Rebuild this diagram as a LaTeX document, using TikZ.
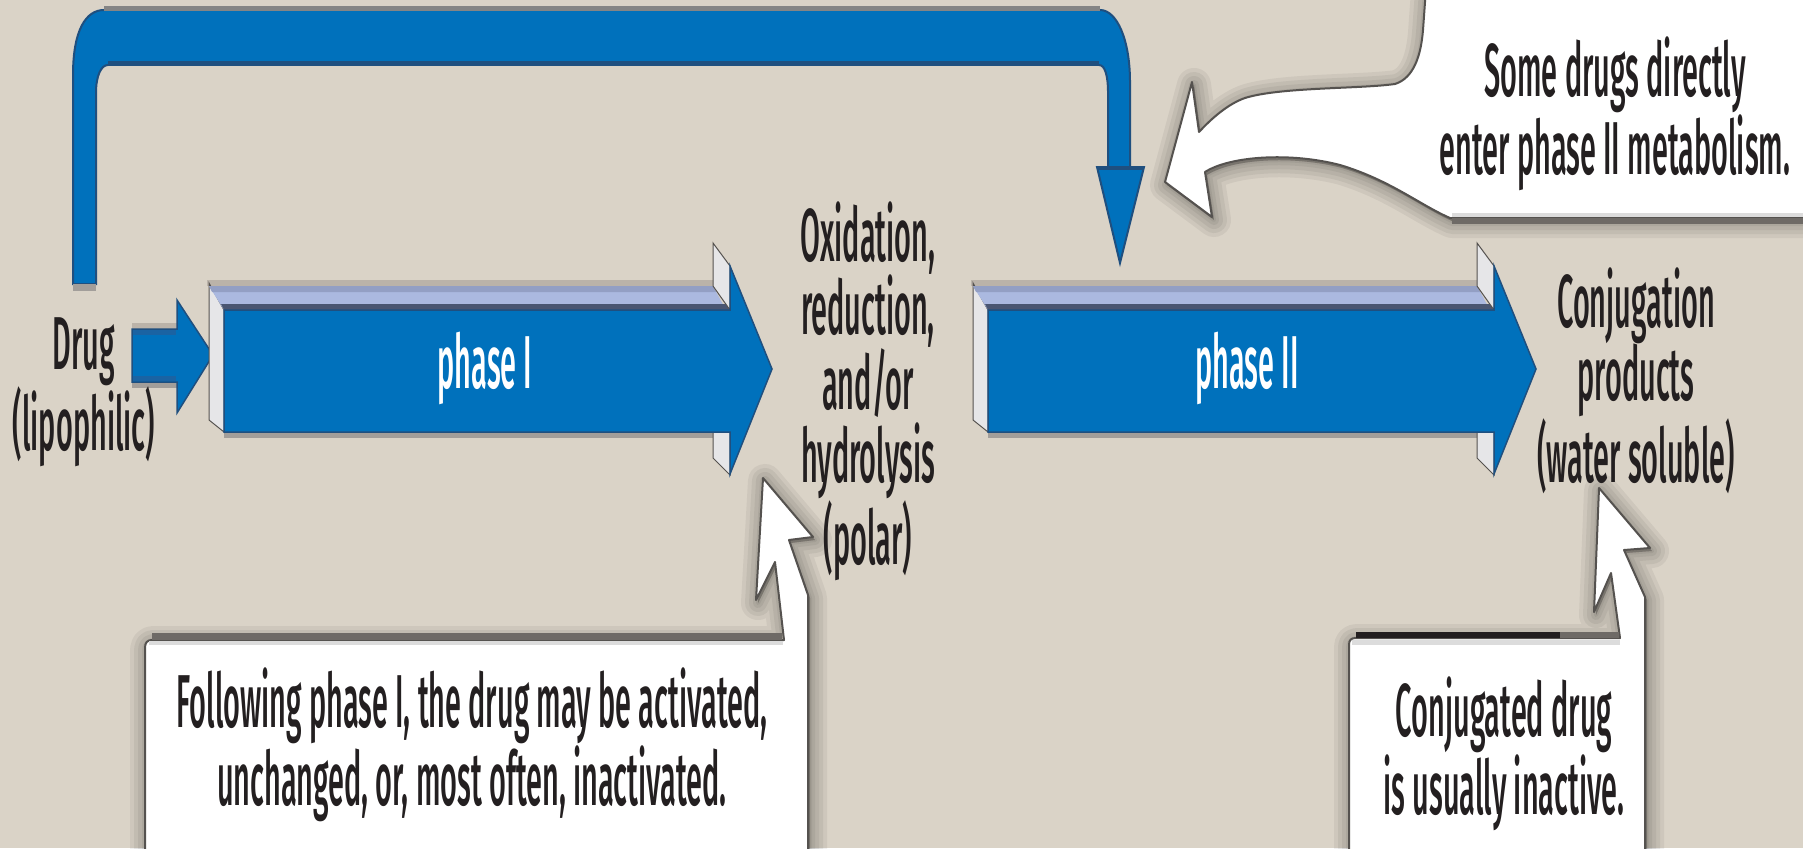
\documentclass[tikz,border=0pt]{standalone}
\usepackage{fontspec}
\setmainfont{Fira Sans}[UprightFont=* Medium, FakeStretch=0.385]
\definecolor{bg}{HTML}{DAD3C7}
\definecolor{ablue}{HTML}{0071BC}
\definecolor{edgeblue}{HTML}{1F4F7F}
\definecolor{stripeblue}{HTML}{1A63A3}
\definecolor{topband}{HTML}{ABB9E0}
\definecolor{topline}{HTML}{939FC4}
\definecolor{darkband}{HTML}{4A5672}
\definecolor{sidegray}{HTML}{E6E6E8}
\definecolor{tanline}{HTML}{BBB3A9}
\definecolor{shadegray}{HTML}{A29E9A}
\definecolor{topgray}{HTML}{858585}
\definecolor{ink}{HTML}{231F20}
\definecolor{outl}{HTML}{55524F}
\definecolor{boxdark}{HTML}{6E6A66}
\definecolor{boxlight}{HTML}{DCDCDC}

\newcommand\shapeTR[1]{\path[#1] (1426,-12) -- (1423,30) .. controls (1421,55) and (1414,78) .. (1395,84) .. controls (1360,89) and (1280,87) .. (1245,98) .. controls (1228,104) and (1212,118) .. (1199,132) -- (1192,82) -- (1165,182) -- (1212,217) -- (1205,172) .. controls (1230,156) and (1290,152) .. (1340,165) .. controls (1390,180) and (1420,205) .. (1450,218) -- (1815,218) -- (1815,-12) -- cycle;}
\newcommand\shapeBL[1]{\path[#1] (145,862) -- (145,648) .. controls (145,643) and (147,640) .. (152,640) -- (784,640) -- (775,562) -- (756,600) -- (763,478) -- (813,537) -- (789,540) -- (808,595) -- (808,862) -- cycle;}
\newcommand\shapeBR[1]{\path[#1] (1349,862) -- (1349,645) .. controls (1349,640) and (1351,638) .. (1356,638) -- (1620,638) -- (1611,573) -- (1594,612) -- (1599,488) -- (1650,548) -- (1624,550) -- (1645,597) -- (1645,862) -- cycle;}

\newcommand\phasearrow[1]{%
\begin{scope}[shift={(#1,0)}]
\fill[shadegray] (224,431) rectangle (730,438);
\fill[tanline] (207,280) rectangle (713,286);
\path[fill=sidegray, draw=outl, line width=1pt] (209,283) -- (224,310) -- (224,432) -- (209,420) -- cycle;
\fill[topband] (209,286) -- (713,286) -- (726,310) -- (224,310) -- cycle;
\fill[topline] (209,286) -- (713,286) -- (716,292) -- (212,292) -- cycle;
\fill[darkband] (221,304) -- (728,304) -- (730,310) -- (224,310) -- cycle;
\path[fill=sidegray, draw=outl, line width=1pt] (713,243) -- (730,266) -- (730,310) -- (713,286) -- cycle;
\path[fill=sidegray, draw=outl, line width=1pt] (713,432) -- (730,432) -- (730,475) -- (713,458) -- cycle;
\path[fill=ablue, draw=edgeblue, line width=1.5pt] (224,310) -- (730,310) -- (730,266) -- (772,369) -- (730,474) -- (730,432) -- (224,432) -- cycle;
\end{scope}}

\tikzset{
  txt/.style={font=\fontsize{75}{73}\selectfont, text=ink, align=center, inner sep=0pt, anchor=north},
  phasetxt/.style={font=\fontsize{75}{73}\selectfont, text=white, inner sep=0pt, anchor=base},
  callout/.style={fill=white, draw=outl, line width=2pt, line join=round},
  softshade/.style={fill=black, fill opacity=0.055, draw=black, draw opacity=0.055, line width=#1, line join=round},
}

\begin{document}
\begin{tikzpicture}[x=1pt,y=-1pt]
\useasboundingbox (0,0) rectangle (1803,848);
\clip (0,0) rectangle (1803,848);
\fill[bg] (0,0) rectangle (1803,848);

% soft shadows of the callouts
\foreach \w in {34,26,18,10,4} {
  \begin{scope}[shift={(2,3)}]
    \shapeTR{softshade=\w pt}
    \shapeBL{softshade=\w pt}
    \shapeBR{softshade=\w pt}
  \end{scope}
}

% bracket arrow (drug directly to phase II)
\path[fill=ablue, draw=edgeblue, line width=2pt] (73,284) -- (73,75) .. controls (73,30) and (86,10) .. (104,10) -- (1100,10) .. controls (1117,10) and (1130,40) .. (1130,82) -- (1130,167) -- (1144,167) -- (1120,263) -- (1097,167) -- (1108,167) -- (1108,92) .. controls (1108,76) and (1105,65) .. (1099,65) -- (108,65) .. controls (101,65) and (96,76) .. (96,93) -- (96,284) -- cycle;
\draw[topgray, line width=5pt] (104,9) -- (1100,9);
\draw[edgeblue, line width=5pt] (108,63.5) -- (1099,63.5);
\draw[edgeblue, line width=4pt] (1098,168) -- (1143,168);
\fill[shadegray] (73,284) rectangle (96,291);

% drug arrow
\fill[tanline] (132,323) rectangle (177,329);
\fill[shadegray] (132,382) rectangle (177,388);
\path[fill=ablue, draw=edgeblue, line width=1.5pt] (132,329) -- (177,329) -- (177,300) -- (213,355) -- (177,413) -- (177,382) -- (132,382) -- cycle;
\fill[stripeblue] (133,330) rectangle (176,335);
\fill[stripeblue] (133,376) rectangle (176,381);

% phase arrows
\phasearrow{0}
\phasearrow{764}
\node[phasetxt] (p1) at (485,388) {phase I};
\node[phasetxt] (p2) at (1247,388) {phase II};

% callouts
\shapeTR{callout}
\draw[boxlight, line width=4pt] (1452,215) -- (1803,215);
\draw[boxdark, line width=6pt] (1452,221) -- (1803,221);
\shapeBL{callout}
\draw[boxdark, line width=7pt] (152,636) -- (782,636);
\draw[boxlight, line width=4pt] (149,643) -- (783,643);
\shapeBR{callout}
\draw[ink, line width=6pt] (1356,635) -- (1560,635);
\draw[boxdark, line width=6pt] (1560,635) -- (1619,635);
\draw[boxlight, line width=5pt] (1352,642) -- (1620,642);

% texts
\node[txt] (drug) at (84,317) {Drug\\(lipophilic)};
\node[txt] (oxid) at (868,202) {Oxidation,\\reduction,\\and/or\\hydrolysis\\(polar)};
\node[txt] (conj) at (1636,268) {Conjugation\\products\\(water soluble)};
\node[txt] (some) at (1615,37) {Some drugs directly\\enter phase II metabolism.};
\node[txt] (foll) at (472,668) {Following phase I, the drug may be activated,\\unchanged, or, most often, inactivated.};
\node[txt] (conjd) at (1504,677) {Conjugated drug\\is usually inactive.};
\end{tikzpicture}
\end{document}
